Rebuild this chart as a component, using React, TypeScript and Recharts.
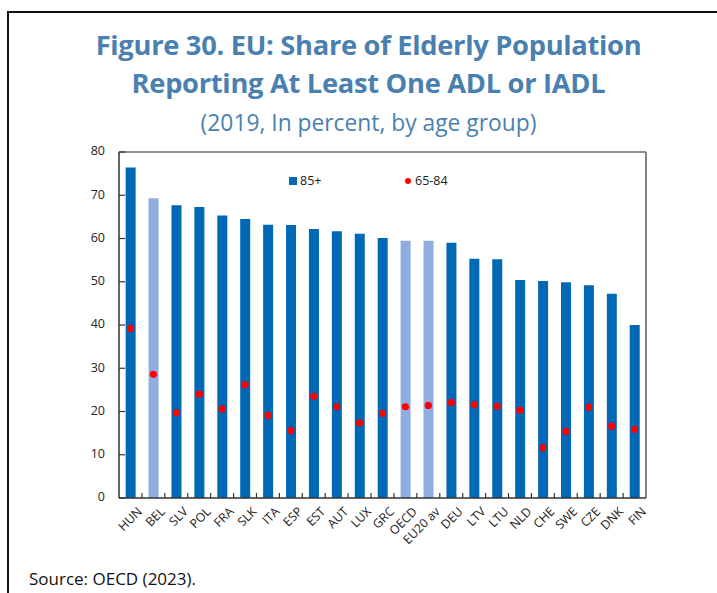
import React from 'react';
import { ComposedChart, Bar, Scatter, XAxis, YAxis, Cell } from 'recharts';

const countries = ['HUN', 'BEL', 'SLV', 'POL', 'FRA', 'SLK', 'ITA', 'ESP', 'EST', 'AUT', 'LUX', 'GRC', 'OECD', 'EU20 av', 'DEU', 'LTV', 'LTU', 'NLD', 'CHE', 'SWE', 'CZE', 'DNK', 'FIN'];
const age85plus = [76.4, 69.3, 67.7, 67.3, 65.3, 64.5, 63.2, 63.1, 62.2, 61.7, 61.1, 60.1, 59.5, 59.5, 59.0, 55.3, 55.2, 50.4, 50.2, 49.9, 49.2, 47.2, 40.0];
const age65to84 = [39.2, 28.6, 19.7, 24.0, 20.6, 26.2, 19.1, 15.6, 23.5, 21.1, 17.4, 19.6, 21.1, 21.4, 22.1, 21.6, 21.2, 20.3, 11.6, 15.4, 21.0, 16.6, 15.9];
const highlighted = ['BEL', 'OECD', 'EU20 av'];
const yTicks = [0, 10, 20, 30, 40, 50, 60, 70, 80];

const data = countries.map((name, i) => ({ name, a85: age85plus[i], a65: age65to84[i] }));

const W = 717;
const H = 593;
const margin = { top: 151, right: 70, bottom: 45, left: 79 };
const Y_AXIS_W = 40;
const X_AXIS_H = 50;
const band = (W - margin.left - margin.right - Y_AXIS_W - 1) / countries.length;

const DARK = '#0068b4';
const LIGHT = '#8fadde';
const RED = '#ff0000';
const TITLE = '#4a80b0';
const FONT = '"Open Sans", sans-serif';

const XTick = (props: any) => {
  const { x, y, payload, index } = props;
  return (
    <g>
      {index > 0 && <line x1={x - band / 2} x2={x - band / 2} y1={y} y2={y - 5} stroke="#333" strokeWidth={1.2} />}
      <text
        x={x + 5}
        y={y + 7}
        textAnchor="end"
        dominantBaseline="hanging"
        transform={`rotate(-45 ${x + 5} ${y + 7})`}
        fontSize={12.3}
        fill="#222"
        fontFamily={FONT}
      >
        {payload.value}
      </text>
    </g>
  );
};

const YTick = (props: any) => {
  const { x, y, payload } = props;
  return (
    <g>
      <line x1={x} x2={x + 6} y1={y} y2={y} stroke="#333" strokeWidth={1.2} />
      <text x={x - 14} y={y} textAnchor="end" dominantBaseline="middle" fontSize={12.5} fill="#222" fontFamily={FONT}>
        {payload.value}
      </text>
    </g>
  );
};

export default function App() {
  return (
    <div style={{ position: 'absolute', left: 0, top: 0, width: W, height: H, overflow: 'hidden', background: '#fff' }}>
      <div
        style={{
          position: 'absolute',
          left: 7,
          top: 11,
          width: 760,
          height: 640,
          border: '2.5px solid #111',
          boxSizing: 'border-box',
        }}
      />
      <div
        style={{
          position: 'absolute',
          left: 0,
          top: 26,
          width: 737,
          textAlign: 'center',
          fontFamily: FONT,
          fontWeight: 700,
          fontSize: 27.3,
          lineHeight: '38.3px',
          color: TITLE,
          letterSpacing: -0.3,
        }}
      >
        Figure 30. EU: Share of Elderly Population
        <br />
        Reporting At Least One ADL or IADL
      </div>
      <div
        style={{
          position: 'absolute',
          left: 0,
          top: 107,
          width: 737,
          textAlign: 'center',
          fontFamily: FONT,
          fontSize: 22.8,
          color: TITLE,
        }}
      >
        (2019, In percent, by age group)
      </div>
      <div style={{ position: 'absolute', left: 0, top: 0 }}>
        <ComposedChart width={W} height={H} data={data} margin={margin} barCategoryGap="29%">
          <XAxis
            xAxisId="top"
            orientation="top"
            dataKey="name"
            height={1}
            tick={false}
            tickLine={false}
            axisLine={{ stroke: '#666', strokeWidth: 1.5 }}
          />
          <YAxis
            yAxisId="right"
            orientation="right"
            domain={[0, 80]}
            width={1}
            tick={false}
            tickLine={false}
            axisLine={{ stroke: '#777', strokeWidth: 1.8 }}
          />
          <XAxis
            dataKey="name"
            interval={0}
            height={X_AXIS_H}
            tickSize={0}
            tickMargin={0}
            tickLine={false}
            axisLine={{ stroke: '#333', strokeWidth: 1.5 }}
            tick={XTick}
          />
          <YAxis
            domain={[0, 80]}
            ticks={yTicks}
            width={Y_AXIS_W}
            tickSize={0}
            tickMargin={0}
            tickLine={false}
            axisLine={{ stroke: '#333', strokeWidth: 1.5 }}
            tick={YTick}
            interval={0}
          />
          <Bar dataKey="a85" name="85+" isAnimationActive={false}>
            {data.map((d) => (
              <Cell key={d.name} fill={highlighted.includes(d.name) ? LIGHT : DARK} />
            ))}
          </Bar>
          <Scatter
            dataKey="a65"
            name="65-84"
            fill={RED}
            isAnimationActive={false}
            shape={(p: any) => <circle cx={p.cx} cy={p.cy} r={3.6} fill={RED} />}
          />
        </ComposedChart>
      </div>
      <div style={{ position: 'absolute', left: 289, top: 173, height: 16, fontFamily: FONT, fontSize: 12.5, color: '#222' }}>
        <span style={{ position: 'absolute', left: 0, top: 4, width: 8, height: 8, background: DARK }} />
        <span style={{ position: 'absolute', left: 11, top: -1, whiteSpace: 'nowrap' }}>85+</span>
        <span style={{ position: 'absolute', left: 116, top: 5, width: 6, height: 6, borderRadius: 3, background: RED }} />
        <span style={{ position: 'absolute', left: 126, top: -1, whiteSpace: 'nowrap' }}>65-84</span>
      </div>
      <div style={{ position: 'absolute', left: 29, top: 567, fontFamily: FONT, fontSize: 17, color: '#111' }}>
        Source: OECD (2023).
      </div>
    </div>
  );
}
